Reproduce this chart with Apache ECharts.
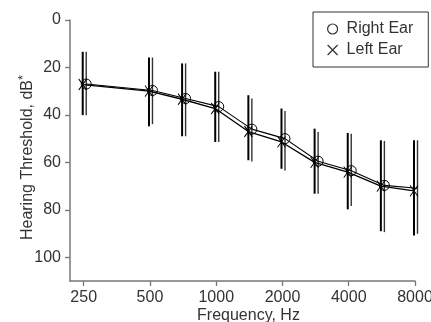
<!DOCTYPE html>
<html>
<head>
<meta charset="utf-8">
<script src="https://cdn.jsdelivr.net/npm/echarts@6/dist/echarts.min.js"></script>
<style>
html,body{margin:0;padding:0;background:#fff;}
#c{width:431px;height:322px;}
</style>
</head>
<body>
<div id="c"></div>
<script>
// Test frequencies (Hz) and their audiogram plotting positions (octaves above 250 Hz, half-octave convention)
var frequencies = [250, 500, 750, 1000, 1500, 2000, 3000, 4000, 6000, 8000];
var plotPositions = [0, 1, 1.5, 2, 2.5, 3, 3.5, 4, 4.5, 5];
var tickPositions = [0, 1, 2, 3, 4, 5];
var tickLabels = ['250', '500', '1000', '2000', '4000', '8000'];
var yTicks = [0, 20, 40, 60, 80, 100];

// Right ear (circles): mean and error-bar ends (dB)
var rightMean = [27.0, 29.7, 33.1, 36.5, 46.0, 50.0, 59.5, 63.5, 69.7, 70.9];
var rightLow  = [13.4, 15.8, 18.3, 21.8, 33.1, 38.3, 47.2, 47.9, 51.0, 50.7];
var rightHigh = [40.1, 43.9, 49.0, 51.4, 59.6, 63.4, 73.2, 78.4, 89.4, 90.1];

// Left ear (X): mean and error-bar ends (dB)
var leftMean = [27.2, 30.0, 33.4, 37.3, 47.0, 51.4, 60.0, 64.1, 70.0, 72.0];
var leftLow  = [13.4, 15.8, 18.3, 21.8, 31.7, 37.3, 45.8, 47.6, 50.7, 50.7];
var leftHigh = [40.1, 44.8, 49.0, 51.4, 59.1, 62.7, 73.2, 79.8, 89.0, 90.8];

var FONT = 'Liberation Sans, Arial, Helvetica, sans-serif';
var GRID = {left: 70, right: 16, top: 20, bottom: 41, outerBoundsMode: 'none', containLabel: false};
var XMIN = -0.207, XMAX = 5;
var pxPerUnit = (431 - GRID.left - GRID.right) / (XMAX - XMIN);
var LEFT_OFF = -1.0, RIGHT_OFF = 2.5; // pixel offsets of the two ears

function pts(mean, off) {
  return plotPositions.map(function (p, i) { return [p + off / pxPerUnit, mean[i]]; });
}
function bars(lo, hi) {
  return plotPositions.map(function (p, i) { return [p, lo[i], hi[i]]; });
}
function barSeries(name, lo, hi, off, width, color) {
  return {
    type: 'custom', name: name, z: 1, silent: true,
    data: bars(lo, hi),
    encode: {x: 0, y: [1, 2]},
    renderItem: function (params, api) {
      var a = api.coord([api.value(0), api.value(1)]);
      var b = api.coord([api.value(0), api.value(2)]);
      return {type: 'line', shape: {x1: a[0] + off, y1: a[1], x2: b[0] + off, y2: b[1]},
              style: {stroke: color, lineWidth: width}};
    }
  };
}
var X_PATH = 'path://M0,0L10,10M10,0L0,10';

var chart = echarts.init(document.getElementById('c'), null, {renderer: 'canvas'});
chart.setOption({
  animation: false,
  backgroundColor: '#fff',
  textStyle: {fontFamily: FONT},
  grid: GRID,
  legend: {
    left: 313, top: 12, orient: 'vertical',
    padding: [9, 15, 9, 14],
    borderColor: '#333', borderWidth: 1,
    itemWidth: 10, itemHeight: 10, itemGap: 5,
    textStyle: {fontFamily: FONT, fontSize: 16, color: '#333', padding: [0, 0, 0, 4]},
    data: [
      {name: 'Right Ear', icon: 'circle', itemStyle: {color: 'transparent', borderColor: '#333', borderWidth: 1.2}},
      {name: 'Left Ear', icon: X_PATH, itemStyle: {color: 'transparent', borderColor: '#333', borderWidth: 1.2}}
    ]
  },
  xAxis: {
    type: 'value', min: XMIN, max: XMAX,
    name: 'Frequency, Hz', nameLocation: 'middle', nameGap: 27, nameMoveOverlap: false,
    nameTextStyle: {fontFamily: FONT, fontSize: 16, color: '#333', padding: [0, 0, 0, 12]},
    axisLine: {show: true, onZero: false, lineStyle: {color: '#777', width: 1.5}},
    axisTick: {show: true, length: 5, customValues: tickPositions, lineStyle: {color: '#777', width: 1.3}},
    axisLabel: {customValues: tickPositions, margin: 9, fontSize: 16, color: '#333', fontFamily: FONT,
      formatter: function (v) { return tickLabels[tickPositions.indexOf(Math.round(v))]; }},
    splitLine: {show: false}
  },
  yAxis: {
    type: 'value', inverse: true, min: 0, max: 110,
    name: 'Hearing Threshold, dB{sup|*}', nameLocation: 'middle', nameGap: 31, nameMoveOverlap: false,
    nameTextStyle: {fontFamily: FONT, fontSize: 16, color: '#333', padding: [0, 14, 0, 0],
      rich: {sup: {fontFamily: FONT, fontSize: 13, color: '#333', padding: [0, 0, 9, 0]}}},
    axisLine: {show: true, onZero: false, lineStyle: {color: '#777', width: 1.5}},
    axisTick: {show: true, length: 5, customValues: yTicks, lineStyle: {color: '#777', width: 1.3}},
    axisLabel: {customValues: yTicks, margin: 9, fontSize: 16, color: '#333', fontFamily: FONT},
    splitLine: {show: false}
  },
  series: [
    barSeries('Left Ear bars', leftLow, leftHigh, LEFT_OFF, 2, '#000'),
    barSeries('Right Ear bars', rightLow, rightHigh, RIGHT_OFF, 1.4, '#333'),
    {
      type: 'line', name: 'Left Ear', z: 3,
      data: pts(leftMean, LEFT_OFF),
      symbol: X_PATH, symbolSize: [8, 11],
      lineStyle: {color: '#000', width: 1.3},
      itemStyle: {color: 'transparent', borderColor: '#000', borderWidth: 1}
    },
    {
      type: 'line', name: 'Right Ear', z: 4,
      data: pts(rightMean, RIGHT_OFF),
      symbol: 'circle', symbolSize: 10,
      lineStyle: {color: '#000', width: 1.1},
      itemStyle: {color: 'transparent', borderColor: '#000', borderWidth: 1}
    }
  ]
});
</script>
</body>
</html>
